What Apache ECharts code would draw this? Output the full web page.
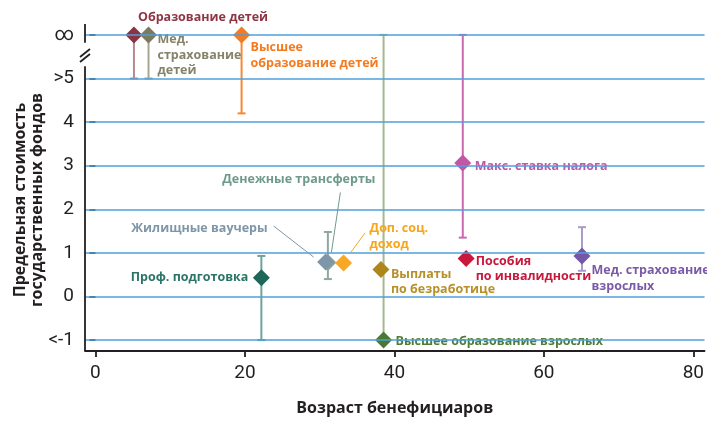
<!DOCTYPE html>
<html><head><meta charset="utf-8">
<script src="https://cdn.jsdelivr.net/npm/echarts@6/dist/echarts.min.js"></script>
<style>html,body{margin:0;padding:0;background:#fff}#c{width:707px;height:421px}</style>
</head><body><div id="c"></div>
<script>
// ---- data ----
const programs = ['Образование детей','Мед. страхование детей','Высшее образование детей','Денежные трансферты','Жилищные ваучеры','Доп. соц. доход','Проф. подготовка','Выплаты по безработице','Высшее образование взрослых','Макс. ставка налога','Пособия по инвалидности','Мед. страхование взрослых'];
const labelTexts = ['Образование детей','Мед.\nстрахование\nдетей','Высшее\nобразование детей','Денежные трансферты','Жилищные ваучеры','Доп. соц.\nдоход','Проф. подготовка','Выплаты\nпо безработице','Высшее образование взрослых','Макс. ставка налога','Пособия\nпо инвалидности','Мед. страхование\nвзрослых'];
const ages    = [5.15, 7.1, 19.55, 31.1, 30.8, 33.2, 22.2, 38.2, 38.55, 49.15, 49.6, 65.1];
// 6 = "∞", 5 = ">5", -1 = "<-1"
const costs   = [6, 6, 6, 0.78, 0.79, 0.77, 0.43, 0.62, -1, 3.06, 0.87, 0.93];
const errLow  = [5, 5, 4.2, 0.4, null, null, -1, null, -1, 1.35, null, 0.59];
const errHigh = [6, 6, 6, 1.48, null, null, 0.93, null, 6, 6, null, 1.59];
const yTickValues = [-1, 0, 1, 2, 3, 4, 5, 6];
const yTickLabels = ['<-1', '0', '1', '2', '3', '4', '>5', '∞'];
const xTickValues = [0, 20, 40, 60, 80];

// ---- styles ----
const pointColors = ['#8a3342','#7b7a5c','#f47b20','#8aa597','#7d96aa','#f9a825','#1f665a','#ae861a','#4a7a30','#c058a6','#c8183c','#7656a6'];
const labelColors = ['#8e3545','#85836a','#f47b20','#6e9a8c','#7d96aa','#f9a51a','#2a7566','#b8902a','#4e7d35','#c158a5','#c8183c','#7a5aa8'];
const barColors   = ['#b88891','#a8a890','#f58a35','#8fa89a',null,null,'#6fa39a',null,'#a3b98f','#c969b0',null,'#a99acb'];
// label offset from point centre: dx, dy, align, verticalAlign
const labelPos = [
  [4,-17,'left','middle'],
  [9,-3,'left','top'],
  [9,5,'left','top'],
  [-29,-83,'center','middle'],
  [-58,-34,'right','middle'],
  [26,-42,'left','top'],
  [-13,0,'right','middle'],
  [10,-3,'left','top'],
  [12,1,'left','middle'],
  [12,3,'left','middle'],
  [9.5,-5,'left','top'],
  [9.5,7,'left','top']
];
// leader lines: index, start offset, end offset (px from point)
const leaders = [
  [4, [-52,-36], [-12,-5]],
  [3, [12.5,-70], [3.5,-10]],
  [5, [21.5,-30], [7.5,-11]]
];
const FONT = "'Open Sans', 'DejaVu Sans', sans-serif";
const NARROW = "Roboto, 'Liberation Sans', sans-serif";
const SYM = 17;

const chart = echarts.init(document.getElementById('c'));

const scatterData = programs.map((p, i) => ({
  name: p,
  value: [ages[i], costs[i]],
  itemStyle: { color: pointColors[i], opacity: 1 },
  label: {
    show: true,
    formatter: labelTexts[i],
    color: labelColors[i],
    position: [SYM/2 + labelPos[i][0], SYM/2 + labelPos[i][1]],
    align: labelPos[i][2],
    verticalAlign: labelPos[i][3],
    textBorderWidth: 0, textBorderColor: 'transparent', opacity: 1,
    fontFamily: FONT, fontSize: 12.5, fontWeight: 'bold', lineHeight: 15.5
  }
}));

const errData = [];
programs.forEach((p, i) => { if (errLow[i] !== null) errData.push([ages[i], errLow[i], errHigh[i], i]); });

function renderErr(params, api) {
  const x = api.value(0), lo = api.value(1), hi = api.value(2), idx = api.value(3);
  const p1 = api.coord([x, lo]), p2 = api.coord([x, hi]);
  const c = barColors[idx], w = 4;
  const st = { stroke: c, lineWidth: 2 };
  return { type: 'group', children: [
    { type: 'line', shape: { x1: p1[0], y1: p1[1], x2: p2[0], y2: p2[1] }, style: st },
    { type: 'line', shape: { x1: p1[0]-w, y1: p1[1], x2: p1[0]+w, y2: p1[1] }, style: st },
    { type: 'line', shape: { x1: p2[0]-w, y1: p2[1], x2: p2[0]+w, y2: p2[1] }, style: st }
  ]};
}

chart.setOption({
  animation: false,
  grid: { left: 85, right: 0, top: 24, bottom: 68, containLabel: false },
  xAxis: {
    type: 'value', min: -1.4, max: 81.5,
    name: 'Возраст бенефициаров', nameLocation: 'middle', nameGap: 49,
    nameTextStyle: { fontFamily: FONT, fontSize: 16, fontWeight: 700, color: '#231f20' },
    axisLine: { show: true, onZero: false, lineStyle: { color: '#231f20', width: 1.8 } },
    axisTick: { show: true, customValues: xTickValues, length: 6, lineStyle: { color: '#231f20', width: 1.8 } },
    axisLabel: { customValues: xTickValues, margin: 13, fontFamily: NARROW, fontSize: 19, color: '#231f20' },
    splitLine: { show: false }
  },
  yAxis: {
    type: 'value', min: -1.25, max: 6.25,
    axisLine: { show: false },
    axisTick: { show: true, customValues: yTickValues, length: 6, lineStyle: { color: '#231f20', width: 1.8 } },
    axisLabel: { customValues: yTickValues, margin: 11, fontFamily: NARROW, fontSize: 19, color: '#231f20',
      formatter: v => { const k = yTickValues.indexOf(v); return k >= 0 ? yTickLabels[k] : ''; } },
    splitLine: { show: false }
  },
  series: [
    { type: 'scatter', data: [], z: 1, silent: true,
      markLine: { silent: true, symbol: 'none', label: { show: false }, animation: false,
        lineStyle: { color: '#4f9fdc', width: 1.5, type: 'solid' },
        data: yTickValues.map(v => ({ yAxis: v })) } },
    { type: 'custom', renderItem: renderErr, data: errData, encode: { x: 0, y: [1, 2] }, z: 2, silent: true },
    { type: 'scatter', symbol: 'diamond', symbolSize: SYM, data: scatterData, z: 3,
      itemStyle: { opacity: 1 }, emphasis: { disabled: true } }
  ]
});

// axis line with break, leader lines, y-axis title
function px(x, y) { return chart.convertToPixel({ gridIndex: 0 }, [x, y]); }
const ax = px(-1.4, 0)[0];
const yTop = px(0, 6.25)[1], yBot = px(0, -1.25)[1];
const yBrk1 = px(0, 5.82)[1], yBrk2 = px(0, 5.28)[1];
const axStyle = { stroke: '#231f20', lineWidth: 1.8 };
const g = [
  { type: 'line', shape: { x1: ax, y1: yTop, x2: ax, y2: yBrk1 }, style: axStyle, z: 10 },
  { type: 'line', shape: { x1: ax, y1: yBrk2, x2: ax, y2: yBot }, style: axStyle, z: 10 },
  { type: 'line', shape: { x1: ax-5, y1: 57, x2: ax+5, y2: 49 }, style: axStyle, z: 10 },
  { type: 'line', shape: { x1: ax-5, y1: 62, x2: ax+5, y2: 54 }, style: axStyle, z: 10 },
  { type: 'text', x: 29, y: 200, rotation: Math.PI/2,
    style: { text: 'Предельная стоимость\nгосударственных фондов', fontFamily: FONT, fontSize: 16, fontWeight: 700,
      fill: '#231f20', align: 'center', verticalAlign: 'middle', lineHeight: 17 } }
];
leaders.forEach(([i, s, e]) => {
  const p = px(ages[i], costs[i]);
  g.push({ type: 'line', shape: { x1: p[0]+s[0], y1: p[1]+s[1], x2: p[0]+e[0], y2: p[1]+e[1] },
    style: { stroke: labelColors[i], lineWidth: 1 }, z: 5 });
});
chart.setOption({ graphic: g });
</script></body></html>
